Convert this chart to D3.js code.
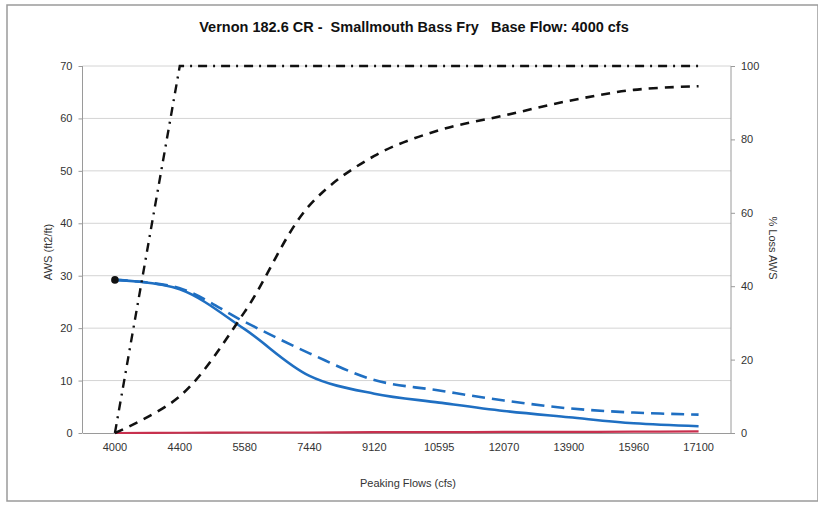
<!DOCTYPE html>
<html><head><meta charset="utf-8">
<script src="https://cdn.jsdelivr.net/npm/d3@7"></script>
<style>body{margin:0;background:#fff}svg{display:block}text{font-family:"Liberation Sans",Arial,sans-serif}</style>
</head><body>
<script>
const categories = ["4000","4400","5580","7440","9120","10595","12070","13900","15960","17100"];
const awsPeak = [29.2, 27.4, 19.8, 10.9, 7.5, 5.8, 4.2, 3.0, 1.85, 1.3];
const awsBase = [29.2, 27.6, 21.2, 15.2, 10.1, 8.1, 6.2, 4.7, 3.9, 3.5];
const awsOverlap = [0, 0.05, 0.1, 0.1, 0.15, 0.15, 0.2, 0.2, 0.25, 0.3];
const lossA = [0, 100, 100, 100, 100, 100, 100, 100, 100, 100];
const lossB = [0, 10, 33, 62, 75.5, 82.5, 86.5, 90.5, 93.5, 94.5];
const leftTicks = [0,10,20,30,40,50,60,70];
const rightTicks = [0,20,40,60,80,100];

const W = 818, H = 505;
const m = {l:82.5, r:731, t:66, b:433};
const svg = d3.select("body").append("svg").attr("width",W).attr("height",H);

// outer frame
svg.append("rect").attr("x",7).attr("y",5).attr("width",W-7).attr("height",496)
  .attr("fill","#fff").attr("stroke","#9a9a9a").attr("stroke-width",1.5);

const x = d3.scaleBand().domain(categories).range([m.l, m.r]);
const xc = d => x(d) + x.bandwidth()/2;
const y = d3.scaleLinear().domain([0,70]).range([m.b, m.t]);
const y2 = d3.scaleLinear().domain([0,100]).range([m.b, m.t]);

// gridlines
svg.append("g").selectAll("line").data(leftTicks.filter(d=>d>0)).join("line")
  .attr("x1",m.l).attr("x2",m.r).attr("y1",d=>y(d)).attr("y2",d=>y(d))
  .attr("stroke","#d4d4d4").attr("stroke-width",1);

// axes
const axL = svg.append("g").attr("transform",`translate(${m.l},0)`)
  .call(d3.axisLeft(y).tickValues(leftTicks).tickSize(4).tickPadding(6));
const axR = svg.append("g").attr("transform",`translate(${m.r},0)`)
  .call(d3.axisRight(y2).tickValues(rightTicks).tickSize(4).tickPadding(6));
const axB = svg.append("g").attr("transform",`translate(0,${m.b})`)
  .call(d3.axisBottom(x).tickSize(0).tickPadding(10));
[axL,axR,axB].forEach(a=>{
  a.selectAll("path").attr("stroke","#9a9a9a");
  a.selectAll("line").attr("stroke","#9a9a9a");
  a.selectAll("text").attr("font-size",11).attr("fill","#333").attr("font-family","Liberation Sans, Arial, sans-serif");
});
axL.select(".domain").attr("d",`M0,${m.t}V${m.b}`);
axR.select(".domain").attr("d",`M0,${m.t}V${m.b}`);

const smooth = d3.curveCatmullRom.alpha(0.5);
const lineL = (vals, curve) => d3.line().x((d,i)=>xc(categories[i])).y(d=>y(d)).curve(curve)(vals);
const lineR = (vals, curve) => d3.line().x((d,i)=>xc(categories[i])).y(d=>y2(d)).curve(curve)(vals);

svg.append("path").attr("d",lineL(awsBase,smooth)).attr("fill","none")
  .attr("stroke","#1f6fc2").attr("stroke-width",2.6).attr("stroke-dasharray","13,7");
svg.append("path").attr("d",lineL(awsPeak,smooth)).attr("fill","none")
  .attr("stroke","#1f6fc2").attr("stroke-width",2.6);
svg.append("path").attr("d",lineL(awsOverlap,smooth)).attr("fill","none")
  .attr("stroke","#c8304e").attr("stroke-width",2.2);
svg.append("circle").attr("cx",xc(categories[0])).attr("cy",y(awsPeak[0])).attr("r",3.8).attr("fill","#111");

svg.append("path").attr("d",lineR(lossA,d3.curveLinear)).attr("fill","none")
  .attr("stroke","#111").attr("stroke-width",2.4).attr("stroke-dasharray","9,6,2,6");
svg.append("path").attr("d",lineR(lossB,smooth)).attr("fill","none")
  .attr("stroke","#111").attr("stroke-width",2.6).attr("stroke-dasharray","9,7");

// titles
svg.append("text").attr("x",414).attr("y",32).attr("text-anchor","middle")
  .attr("font-size",14.5).attr("font-weight","bold").attr("fill","#111")
  .attr("xml:space","preserve").style("white-space","pre")
  .text("Vernon 182.6 CR -  Smallmouth Bass Fry   Base Flow: 4000 cfs");
svg.append("text").attr("x",408).attr("y",487).attr("text-anchor","middle")
  .attr("font-size",11).attr("fill","#333").text("Peaking Flows (cfs)");
svg.append("text").attr("transform",`translate(52,252) rotate(-90)`).attr("text-anchor","middle")
  .attr("font-size",11).attr("fill","#333").text("AWS (ft2/ft)");
svg.append("text").attr("transform",`translate(769,248) rotate(90)`).attr("text-anchor","middle")
  .attr("font-size",11).attr("fill","#333").text("% Loss AWS");
</script>
</body></html>
